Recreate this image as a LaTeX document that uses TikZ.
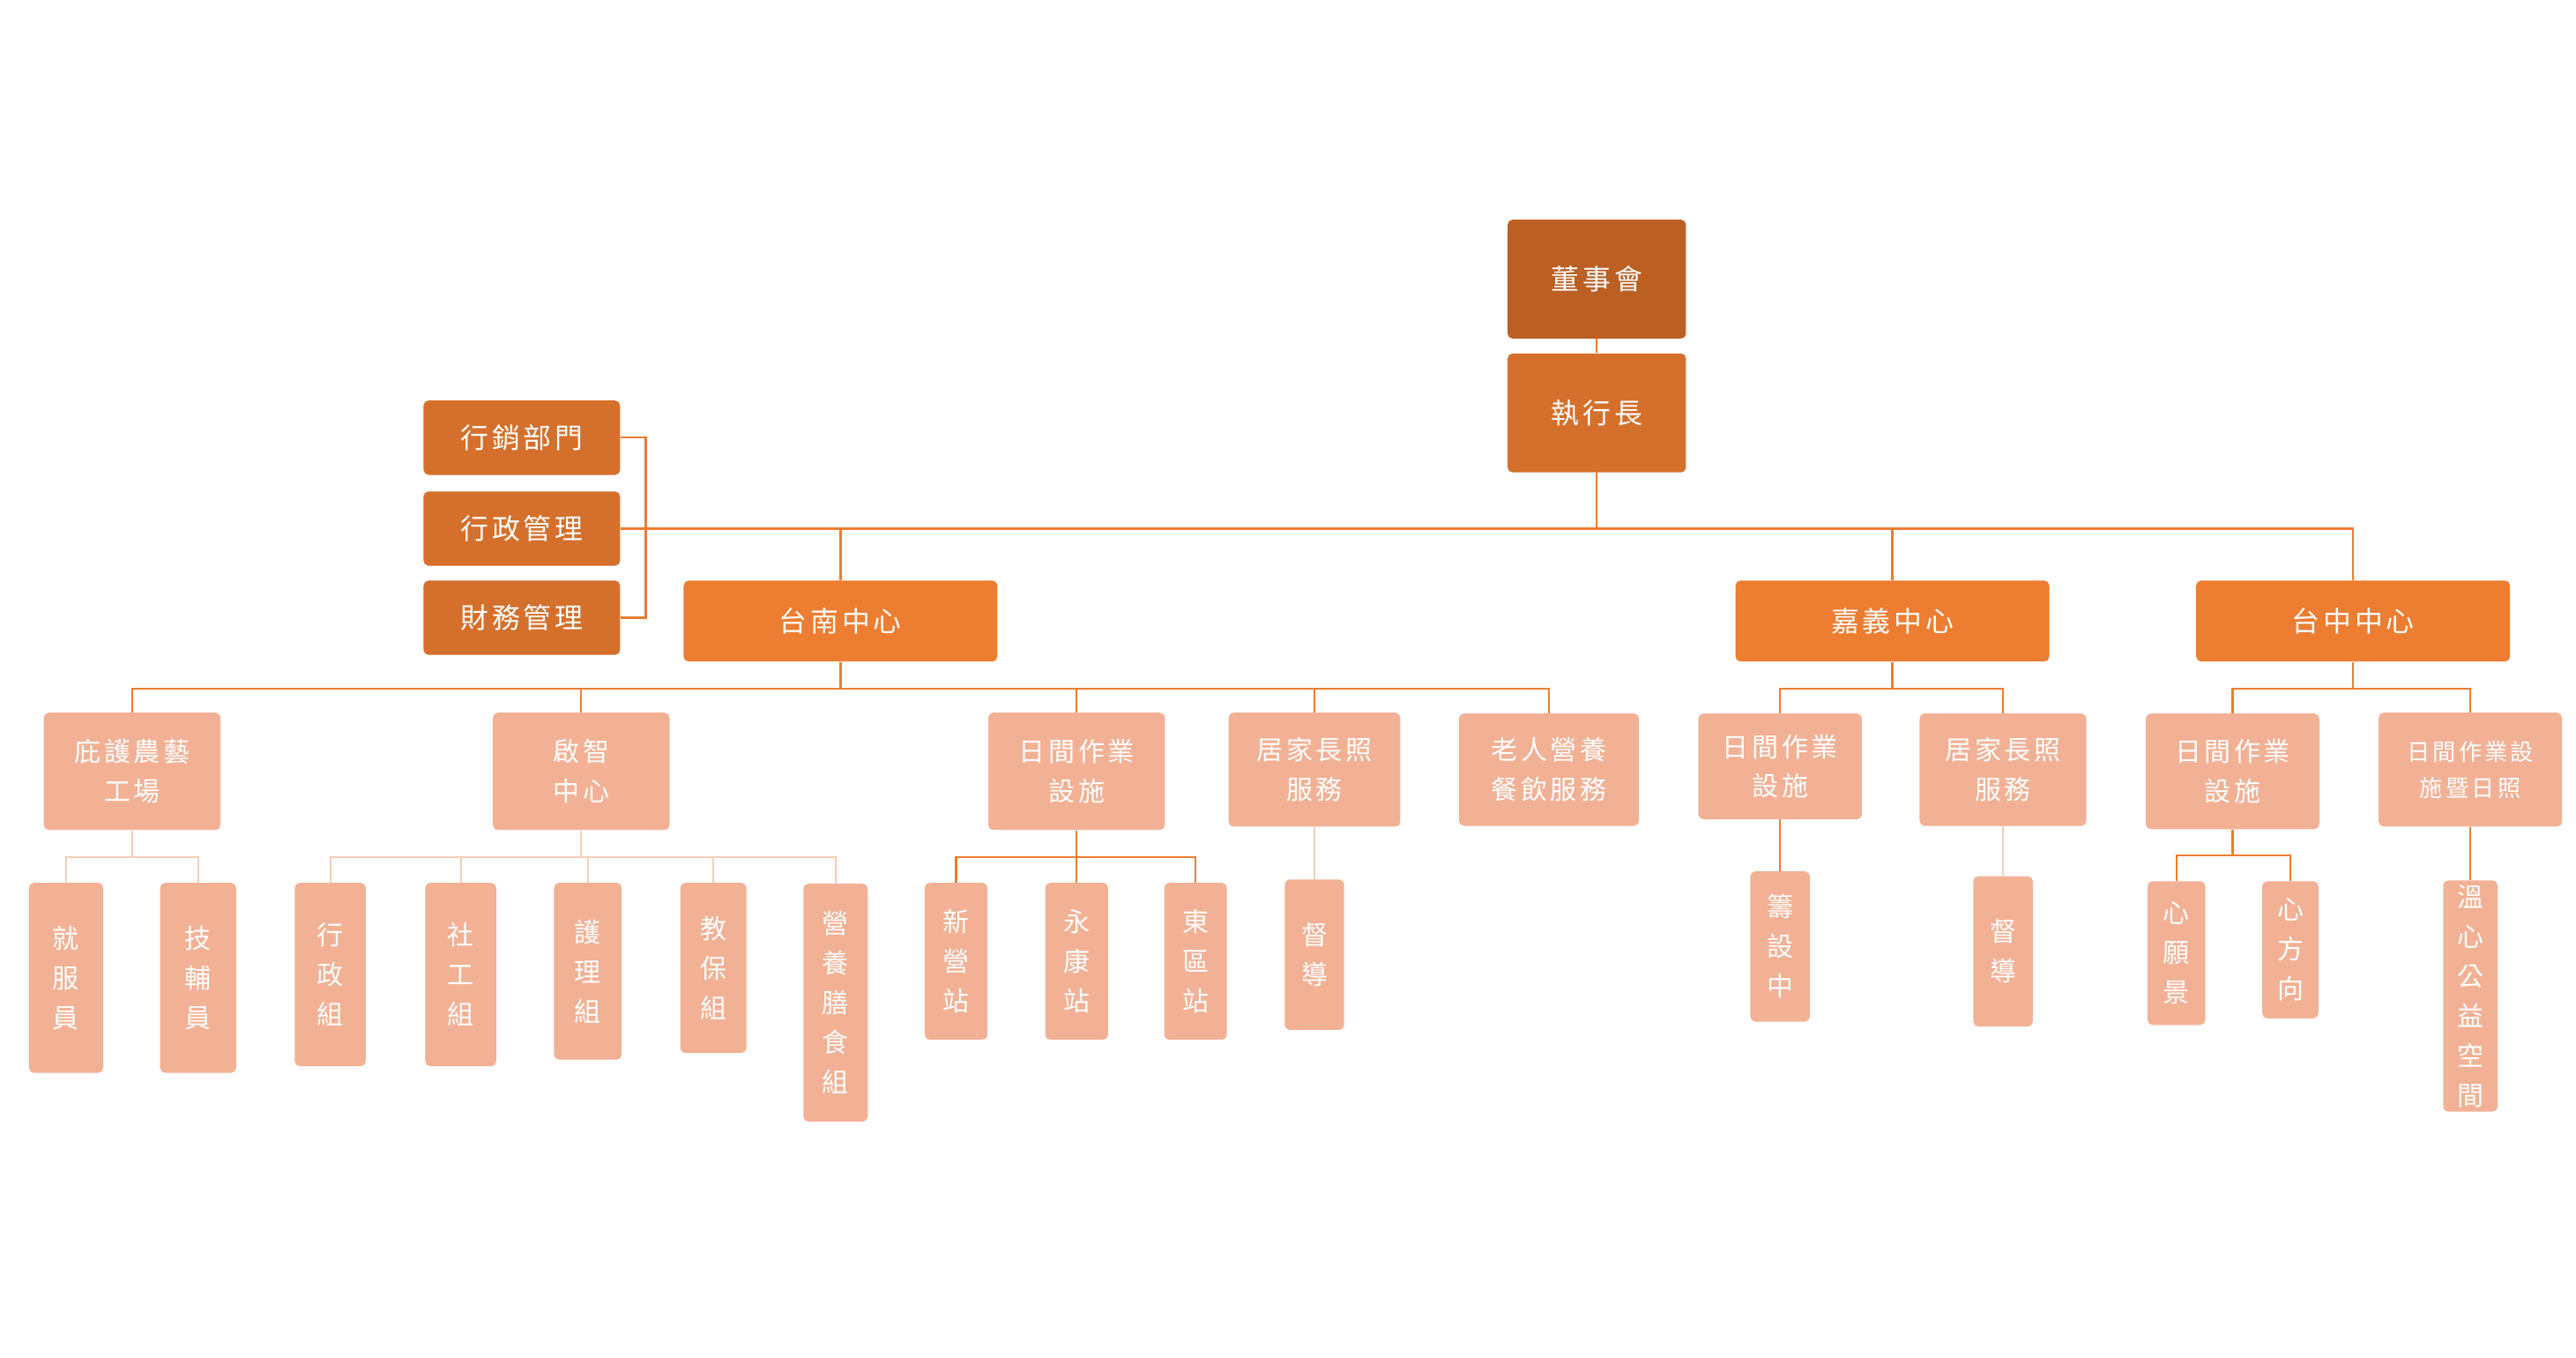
\documentclass[tikz,border=0pt]{standalone}
\usepackage{fontspec}
\setmainfont{Noto Sans CJK TC}[LetterSpace=12]
\begin{document}
\begin{tikzpicture}[x=1pt,y=-1pt,
 bx/.style={rounded corners=3pt,text=white,align=center,inner sep=0pt,font=\fontsize{17}{25}\selectfont},
 dk/.style={bx,fill=dkc}, md/.style={bx,fill=mdc}, mn/.style={bx,fill=mnc}, lt/.style={bx,fill=ltc,font=\fontsize{16}{24}\selectfont},
 ol/.style={draw=mnc,line width=1.2pt}, ll/.style={draw=llc,line width=1pt}]
\definecolor{dkc}{HTML}{BC5F23}\definecolor{mdc}{HTML}{D4702C}\definecolor{mnc}{HTML}{ED7D31}
\definecolor{ltc}{HTML}{F2B195}\definecolor{llc}{HTML}{F6CDB8}
\useasboundingbox (0,0) rectangle (1560,822);
\newcommand\bxn[7]{\node[#1,minimum width=#5,minimum height=#6] (#2) at (#3,#4) {#7};}
\bxn{dk}{dsh}{967}{169}{108}{72}{董事會}
\bxn{md}{ceo}{967}{250}{108}{72}{執行長}
\bxn{md}{a1}{316}{265}{119}{45}{行銷部門}
\bxn{md}{a2}{316}{320}{119}{45}{行政管理}
\bxn{md}{a3}{316}{374}{119}{45}{財務管理}
\bxn{mn}{tn}{509}{376}{190}{49}{台南中心}
\bxn{mn}{cy}{1146}{376}{190}{49}{嘉義中心}
\bxn{mn}{tc}{1425}{376}{190}{49}{台中中心}
% Tainan children
\bxn{lt}{t1}{80}{467}{107}{71}{庇護農藝\\工場}
\bxn{lt}{t2}{352}{467}{107}{71}{啟智\\中心}
\bxn{lt}{t3}{652}{467}{107}{71}{日間作業\\設施}
\bxn{lt}{t4}{796}{466}{104}{69}{居家長照\\服務}
\bxn{lt}{t5}{938}{466}{109}{68}{老人營養\\餐飲服務}
\bxn{lt}{c1}{1078}{464}{99}{64}{日間作業\\設施}
\bxn{lt}{c2}{1213}{466}{101}{68}{居家長照\\服務}
\bxn{lt}{d1}{1352}{467}{105}{70}{日間作業\\設施}
\node[bx,fill=ltc,minimum width=111,minimum height=69,font=\fontsize{14}{22}\selectfont] (d2) at (1496,466) {日間作業設\\施暨日照};
% grandchildren
\bxn{lt}{g1}{40}{592}{45}{115}{就\\服\\員}
\bxn{lt}{g2}{120}{592}{46}{115}{技\\輔\\員}
\bxn{lt}{g3}{200}{590}{43}{111}{行\\政\\組}
\bxn{lt}{g4}{279}{590}{43}{111}{社\\工\\組}
\bxn{lt}{g5}{356}{588}{41}{107}{護\\理\\組}
\bxn{lt}{g6}{432}{586}{40}{103}{教\\保\\組}
\bxn{lt}{g7}{506}{607}{39}{144}{營\\養\\膳\\食\\組}
\bxn{lt}{g8}{579}{582}{38}{95}{新\\營\\站}
\bxn{lt}{g9}{652}{582}{38}{95}{永\\康\\站}
\bxn{lt}{g10}{724}{582}{38}{95}{東\\區\\站}
\bxn{lt}{g11}{796}{578}{36}{91}{督\\導}
\bxn{lt}{g12}{1078}{573}{36}{91}{籌\\設\\中}
\bxn{lt}{g13}{1213}{576}{36}{91}{督\\導}
\bxn{lt}{g14}{1318}{577}{35}{87}{心\\願\\景}
\bxn{lt}{g15}{1387}{575}{34}{83}{心\\方\\向}
\bxn{lt}{g16}{1496}{603}{33}{140}{溫\\心\\公\\益\\空\\間}
% connectors
\draw[ol] (dsh.south) -- (ceo.north);
\draw[ol] (ceo.south) -- (ceo.south |- 0,320) coordinate (bus);
\draw[ol] (a2.east) -- (bus -| tc.north) -- (tc.north);
\draw[ol] (bus -| tn.north) -- (tn.north);
\draw[ol] (bus -| cy.north) -- (cy.north);
\draw[ol] (a1.east) -| (391,320) |- (a3.east);
\foreach \c in {t1,t2,t3,t4,t5} \draw[ol] (tn.south) -- (tn.south |- 0,417) -| (\c.north);
\foreach \c in {c1,c2} \draw[ol] (cy.south) -- (cy.south |- 0,417) -| (\c.north);
\foreach \c in {d1,d2} \draw[ol] (tc.south) -- (tc.south |- 0,417) -| (\c.north);
\foreach \c in {g1,g2} \draw[ll] (t1.south) -- (t1.south |- 0,519) -| (\c.north);
\foreach \c in {g3,g4,g5,g6,g7} \draw[ll] (t2.south) -- (t2.south |- 0,519) -| (\c.north);
\foreach \c in {g8,g9,g10} \draw[ol] (t3.south) -- (t3.south |- 0,519) -| (\c.north);
\draw[ll] (t4.south) -- (g11.north);
\draw[ol] (c1.south) -- (g12.north);
\draw[ll] (c2.south) -- (g13.north);
\foreach \c in {g14,g15} \draw[ol] (d1.south) -- (d1.south |- 0,518) -| (\c.north);
\draw[ol] (d2.south) -- (g16.north);
\end{tikzpicture}
\end{document}
